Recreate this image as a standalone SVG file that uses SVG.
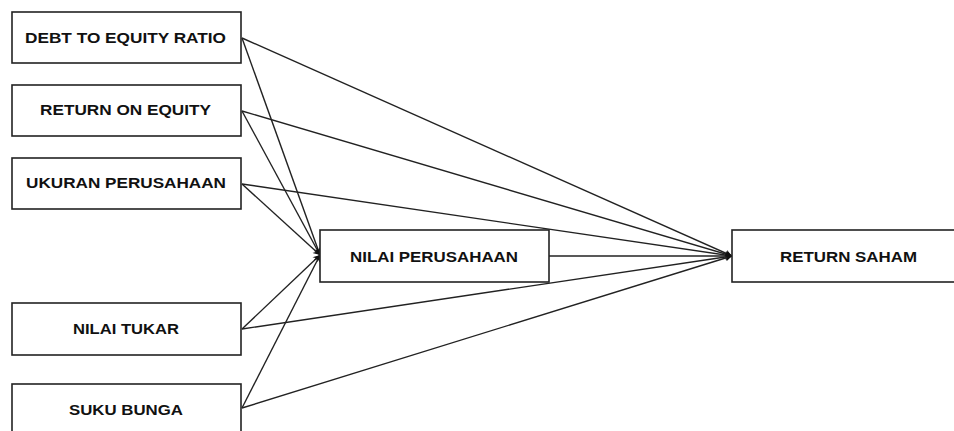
<svg xmlns="http://www.w3.org/2000/svg" width="954" height="431" viewBox="0 0 954 431">
<style>
.box{fill:#fff;stroke:#222;stroke-width:1.6}
.lbl{font-family:"Liberation Sans",Arial,sans-serif;font-weight:bold;font-size:15px;fill:#111}
.con{stroke:#222;stroke-width:1.4;fill:none}
</style>
<defs>
<marker id="ah" viewBox="0 0 10 10" refX="10" refY="5" markerWidth="9" markerHeight="7" markerUnits="userSpaceOnUse" orient="auto">
<path d="M0,0 L10,5 L0,10 L3,5 z" fill="#111"/>
</marker>
</defs>
<rect width="954" height="431" fill="#fff"/>
<g id="connectors">
<line class="con" x1="242" y1="38" x2="320" y2="255" marker-end="url(#ah)"/>
<line class="con" x1="242" y1="111" x2="320" y2="255" marker-end="url(#ah)"/>
<line class="con" x1="242" y1="184" x2="320" y2="255" marker-end="url(#ah)"/>
<line class="con" x1="242" y1="329" x2="320" y2="255" marker-end="url(#ah)"/>
<line class="con" x1="242" y1="408" x2="320" y2="255" marker-end="url(#ah)"/>
<line class="con" x1="242" y1="38" x2="732" y2="256" marker-end="url(#ah)"/>
<line class="con" x1="242" y1="111" x2="732" y2="256" marker-end="url(#ah)"/>
<line class="con" x1="242" y1="184" x2="732" y2="256" marker-end="url(#ah)"/>
<line class="con" x1="549" y1="256" x2="732" y2="256" marker-end="url(#ah)"/>
<line class="con" x1="242" y1="329" x2="732" y2="256" marker-end="url(#ah)"/>
<line class="con" x1="242" y1="408" x2="732" y2="256" marker-end="url(#ah)"/>
</g>
<g id="debt">
<rect class="box" x="12" y="12" width="229" height="51"/>
<text class="lbl" x="25" y="43" textLength="201" lengthAdjust="spacingAndGlyphs">DEBT TO EQUITY RATIO</text>
</g>
<g id="roe">
<rect class="box" x="12" y="85" width="229" height="51"/>
<text class="lbl" x="40" y="115" textLength="171" lengthAdjust="spacingAndGlyphs">RETURN ON EQUITY</text>
</g>
<g id="ukuran">
<rect class="box" x="12" y="158" width="229" height="51"/>
<text class="lbl" x="26" y="188" textLength="200" lengthAdjust="spacingAndGlyphs">UKURAN  PERUSAHAAN</text>
</g>
<g id="nilaitukar">
<rect class="box" x="12" y="303" width="229" height="52"/>
<text class="lbl" x="73" y="334" textLength="106" lengthAdjust="spacingAndGlyphs">NILAI TUKAR</text>
</g>
<g id="sukubunga">
<rect class="box" x="12" y="384" width="229" height="60"/>
<text class="lbl" x="69" y="415" textLength="114" lengthAdjust="spacingAndGlyphs">SUKU BUNGA</text>
</g>
<g id="nilaiperusahaan">
<rect class="box" x="320" y="230" width="229" height="52"/>
<text class="lbl" x="350" y="262" textLength="168" lengthAdjust="spacingAndGlyphs">NILAI PERUSAHAAN</text>
</g>
<g id="returnsaham">
<rect class="box" x="732" y="230" width="240" height="52"/>
<text class="lbl" x="780" y="262" textLength="137" lengthAdjust="spacingAndGlyphs">RETURN  SAHAM</text>
</g>
</svg>
